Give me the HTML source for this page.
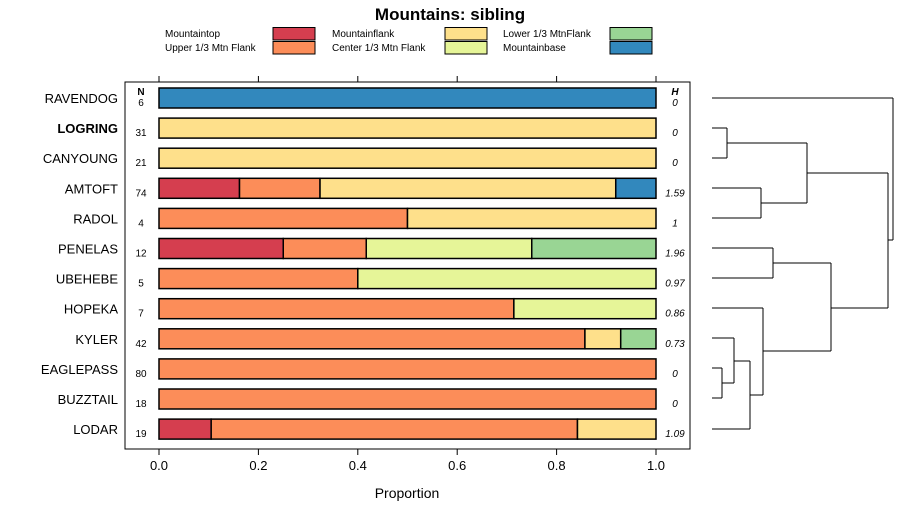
<!DOCTYPE html>
<html><head><meta charset="utf-8"><style>
body{margin:0;background:#fff;font-family:"Liberation Sans",sans-serif;}
</style></head><body>
<svg width="900" height="520" xmlns="http://www.w3.org/2000/svg" font-family="Liberation Sans, sans-serif">
<text x="450" y="20" text-anchor="middle" font-size="17" font-weight="bold">Mountains: sibling</text>
<g id="legend"></g>
<rect x="125" y="82" width="565" height="367" fill="none" stroke="#000"/>
<g id="bars"></g><g id="axes"></g><g id="dendro" stroke="#000" fill="none"></g>
<text x="407" y="498" text-anchor="middle" font-size="14">Proportion</text>
<text x="141" y="95" text-anchor="middle" font-size="10" font-weight="bold">N</text>
<text x="675" y="95" text-anchor="middle" font-size="10" font-weight="bold" font-style="italic">H</text>
</svg>
<script>
const categories=["RAVENDOG","LOGRING","CANYOUNG","AMTOFT","RADOL","PENELAS","UBEHEBE","HOPEKA","KYLER","EAGLEPASS","BUZZTAIL","LODAR"];
const nValues=[6,31,21,74,4,12,5,7,42,80,18,19];
const hValues=["0","0","0","1.59","1","1.96","0.97","0.86","0.73","0","0","1.09"];
const seriesNames=["Mountaintop","Upper 1/3 Mtn Flank","Mountainflank","Center 1/3 Mtn Flank","Lower 1/3 MtnFlank","Mountainbase"];
const seriesColors=["#d53e4f","#fc8d59","#fee08b","#e6f598","#99d594","#3288bd"];
const sMountaintop=[0,0,0,0.162,0,0.25,0,0,0,0,0,0.105];
const sUpper=[0,0,0,0.162,0.5,0.167,0.4,0.714,0.857,1,1,0.737];
const sFlank=[0,1,1,0.595,0.5,0,0,0,0.072,0,0,0.158];
const sCenter=[0,0,0,0,0,0.333,0.6,0.286,0,0,0,0];
const sLower=[0,0,0,0,0,0.25,0,0,0.071,0,0,0];
const sBase=[1,0,0,0.081,0,0,0,0,0,0,0,0];
const series=[sMountaintop,sUpper,sFlank,sCenter,sLower,sBase];
const xTicks=[0,0.2,0.4,0.6,0.8,1.0];
const xTickLabels=["0.0","0.2","0.4","0.6","0.8","1.0"];
const NS="http://www.w3.org/2000/svg";
const X=v=>159+v*497, Y=i=>98+i*30.1;
function mk(t,a,p){const e=document.createElementNS(NS,t);for(const k in a)e.setAttribute(k,a[k]);p.appendChild(e);return e;}
const bars=document.getElementById('bars'),axes=document.getElementById('axes');
categories.forEach((c,i)=>{
  const lab=mk('text',{x:118,y:Y(i)+5,'text-anchor':'end','font-size':13,'font-weight':c==="LOGRING"?'bold':'normal'},axes);lab.textContent=c;
  
  
  const n=mk('text',{x:141,y:Y(i)+8,'text-anchor':'middle','font-size':10},axes);n.textContent=nValues[i];
  
  
  const h=mk('text',{x:675,y:Y(i)+8,'text-anchor':'middle','font-size':10,'font-style':'italic'},axes);h.textContent=hValues[i];
  
  
  let cum=0;
  series.forEach((s,j)=>{const v=s[i];if(v<=0)return;
    const r=mk('rect',{x:X(cum),y:Y(i)-10,width:X(cum+v)-X(cum),height:20,fill:seriesColors[j],stroke:'#000','stroke-width':1.5},bars);
    
    
    cum+=v;});
});
xTicks.forEach((t,k)=>{
  mk('line',{x1:X(t),x2:X(t),y1:449,y2:455,stroke:'#000'},axes);
  mk('line',{x1:X(t),x2:X(t),y1:76,y2:82,stroke:'#000'},axes);
  const l=mk('text',{x:X(t),y:470,'text-anchor':'middle','font-size':13},axes);l.textContent=xTickLabels[k];
  
  
});
const lg=document.getElementById('legend');
const legPos=[[165,273,34],[165,273,48],[332,445,34],[332,445,48],[503,610,34],[503,610,48]];
seriesNames.forEach((n,j)=>{const p=legPos[j];
  const t=mk('text',{x:p[0],y:p[2]+3,'font-size':10},lg);t.textContent=n;
  
  
  mk('rect',{x:p[1],y:p[2]-6.5,width:42,height:12.5,fill:seriesColors[j],stroke:'#000'},lg);
});
const d=document.getElementById('dendro');
const segs=[[712,98,893,98],[893,98,893,240],[888,240,893,240],
[712,128,727,128],[712,158,727,158],[727,128,727,158],[727,143,807,143],
[712,188,761,188],[712,218,761,218],[761,188,761,218],[761,203,807,203],[807,143,807,203],
[807,173,888,173],[888,173,888,308],
[712,248,773,248],[712,278,773,278],[773,248,773,278],[773,263,831,263],
[712,308,763,308],[712,338,734,338],[712,368,722,368],[712,398,722,398],[722,368,722,398],[722,383,734,383],[734,338,734,383],
[734,361,750,361],[712,429,750,429],[750,361,750,429],[750,395,763,395],[763,308,763,395],
[763,351,831,351],[831,263,831,351],[831,308,888,308]];
segs.forEach(s=>mk('line',{x1:s[0],y1:s[1],x2:s[2],y2:s[3]},d));
</script>
</body></html>
